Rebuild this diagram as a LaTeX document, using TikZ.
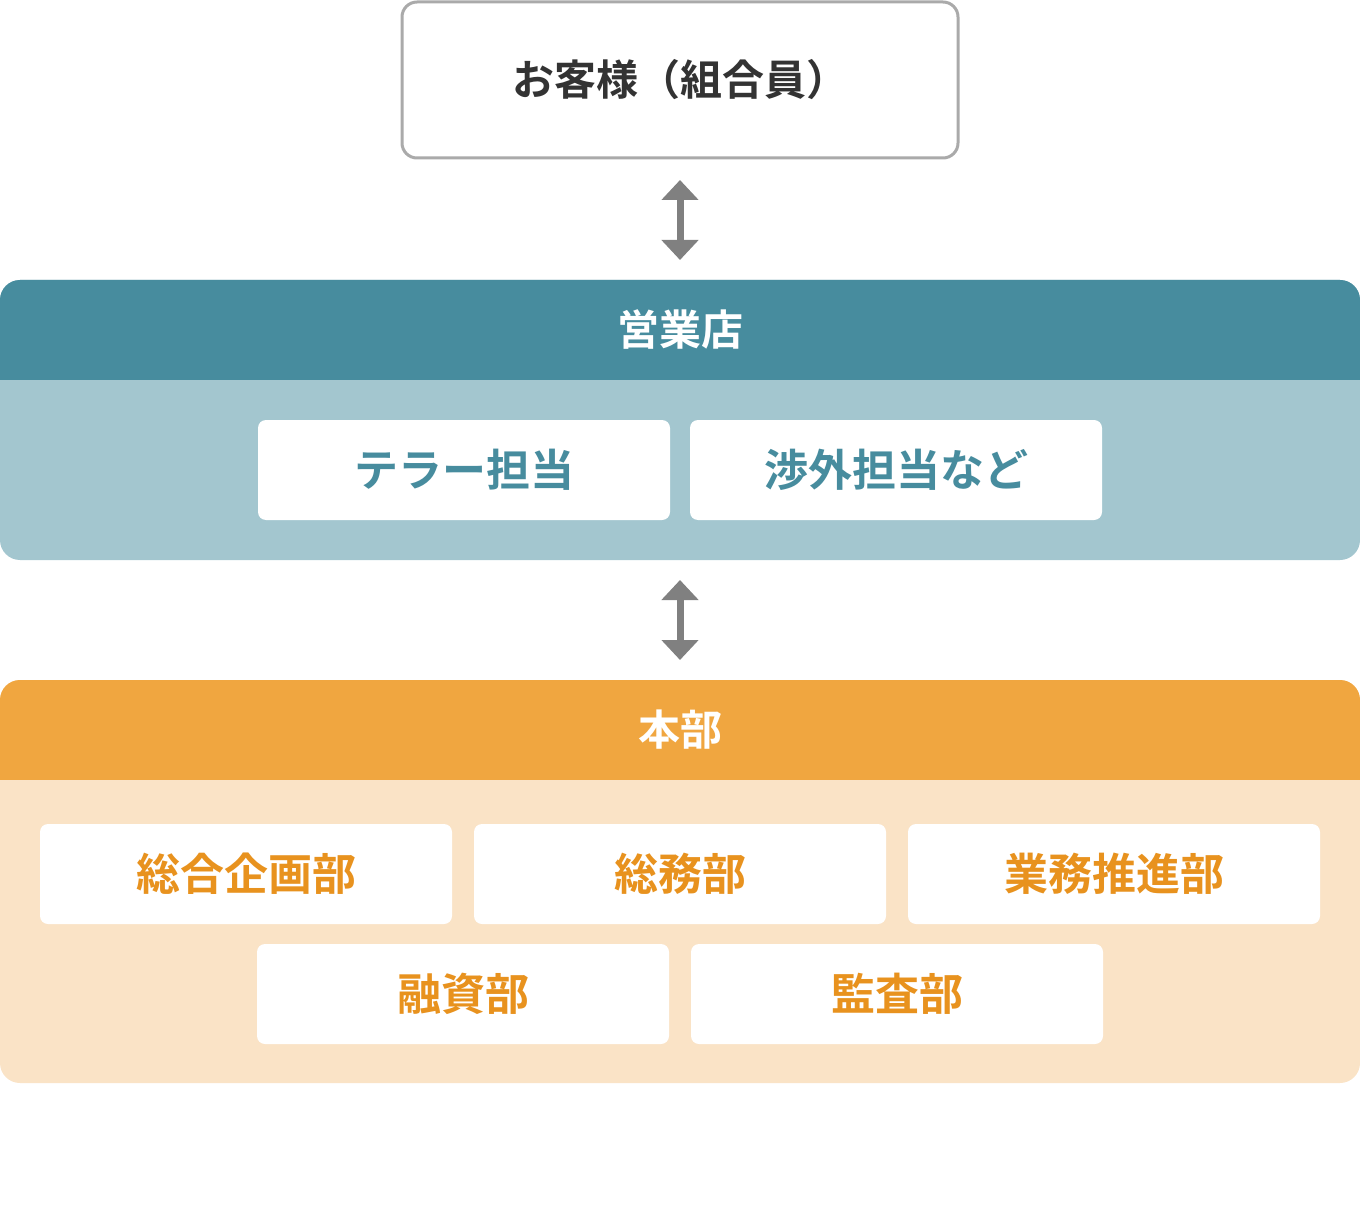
\documentclass[tikz,border=0pt]{standalone}
\usepackage{fontspec}
\setmainfont{Noto Sans CJK JP Bold}
\usetikzlibrary{arrows.meta}
\definecolor{teal}{HTML}{478C9E}
\definecolor{teallt}{HTML}{A3C6CF}
\definecolor{orng}{HTML}{F0A640}
\definecolor{orngl}{HTML}{FAE3C6}
\definecolor{orngt}{HTML}{E8921E}
\definecolor{arr}{HTML}{808080}
\tikzset{
 wbox/.style={fill=white,rounded corners=8pt,minimum width=412pt,minimum height=100pt,inner sep=0pt,font=\fontsize{44}{50}\selectfont},
 dbl/.style={arr,line width=7pt,{Triangle[width=36pt,length=20pt]}-{Triangle[width=36pt,length=20pt]}},
 hdr/.style={text=white,font=\fontsize{42}{48}\selectfont}
}
\begin{document}
\begin{tikzpicture}[x=1pt,y=-1pt]
\useasboundingbox (0,0) rectangle (1360,1230);
% top
\node[draw={rgb,255:red,170;green,170;blue,170},line width=3pt,rounded corners=15pt,fill=white,minimum width=556pt,minimum height=156pt,text={rgb,255:red,51;green,51;blue,51},font=\fontsize{42}{48}\selectfont] (cust) at (680,80) {お客様（組合員）};
% branch
\fill[teallt,rounded corners=20pt] (0,280) rectangle (1360,560);
\fill[teal,rounded corners=20pt] (0,280) rectangle (1360,400);
\fill[teallt] (0,380) rectangle (1360,420);
\node[hdr] (br) at (680,330) {営業店};
\node[wbox,text=teal] (t1) at (464,470) {テラー担当};
\node[wbox,text=teal] (t2) at (896,470) {渉外担当など};
% hq
\fill[orngl,rounded corners=20pt] (0,680) rectangle (1360,1083);
\fill[orng,rounded corners=20pt] (0,680) rectangle (1360,800);
\fill[orngl] (0,780) rectangle (1360,820);
\node[hdr] (hq) at (680,730) {本部};
\node[wbox,text=orngt] (h1) at (246,874) {総合企画部};
\node[wbox,text=orngt] (h2) at (680,874) {総務部};
\node[wbox,text=orngt] (h3) at (1114,874) {業務推進部};
\node[wbox,text=orngt] (h4) at (463,994) {融資部};
\node[wbox,text=orngt] (h5) at (897,994) {監査部};
% arrows
\coordinate (a1) at (680,180); \coordinate (a2) at (680,260);
\coordinate (b1) at (680,580); \coordinate (b2) at (680,660);
\draw[dbl] (a1) -- (a2);
\draw[dbl] (b1) -- (b2);
\end{tikzpicture}
\end{document}
